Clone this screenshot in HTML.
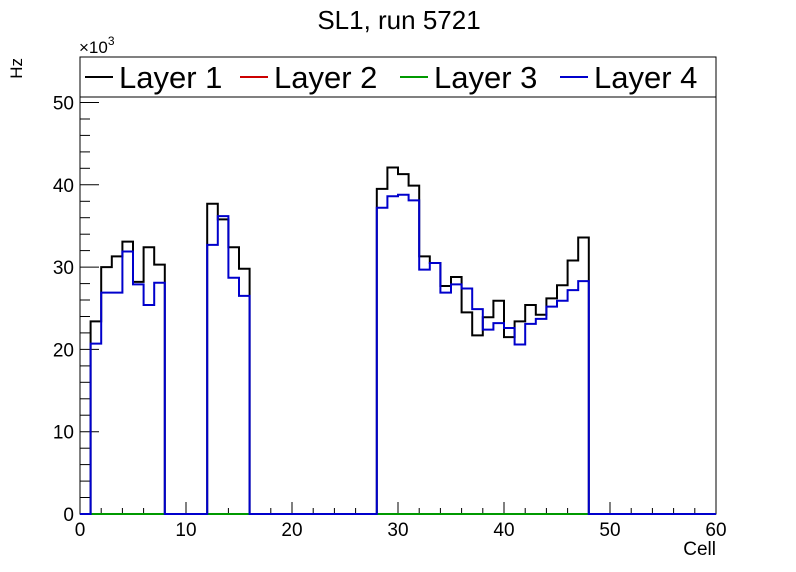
<!DOCTYPE html>
<html><head><meta charset="utf-8"><style>
body{margin:0;background:#fff;}
svg{display:block;font-family:"Liberation Sans",sans-serif;}
</style></head><body>
<svg id="s" width="796" height="572" viewBox="0 0 796 572" xmlns="http://www.w3.org/2000/svg">
<rect width="796" height="572" fill="#fff"/>
<text x="399" y="29" font-size="26" text-anchor="middle">SL1, run 5721</text>
<text x="22" y="58" font-size="17" transform="rotate(-90 22 58)" text-anchor="end">Hz</text>
<text x="79" y="53" font-size="17">×10<tspan dy="-8" font-size="12">3</tspan></text>
<text x="716" y="555" font-size="19" text-anchor="end">Cell</text>
<g id="g"></g>
<rect x="80" y="57" width="636" height="40" fill="#fff" stroke="#000" stroke-width="1"/>
<g font-size="31">
<line x1="85" y1="77" x2="113" y2="77" stroke="#000" stroke-width="2"/><text x="119" y="88">Layer 1</text>
<line x1="240" y1="77" x2="268" y2="77" stroke="#c00" stroke-width="2"/><text x="274" y="88">Layer 2</text>
<line x1="400" y1="77" x2="428" y2="77" stroke="#090" stroke-width="2"/><text x="434" y="88">Layer 3</text>
<line x1="560" y1="77" x2="588" y2="77" stroke="#00c" stroke-width="2"/><text x="594" y="88">Layer 4</text>
</g>
</svg>
<script>
var X0=80,X1=716,Y0=514,K=8.23;
function px(c){return X0+(X1-X0)*c/60;}
function py(v){return Y0-v*K;}
var A={1:23.4,2:30.0,3:31.3,4:33.1,5:28.2,6:32.4,7:30.3,12:37.7,13:35.8,14:32.4,15:29.8,28:39.5,29:42.1,30:41.3,31:39.9,32:31.3,33:30.5,34:27.7,35:28.8,36:24.5,37:21.7,38:23.9,39:25.9,40:21.5,41:23.4,42:25.4,43:24.2,44:26.2,45:27.8,46:30.8,47:33.6};
var B={1:20.7,2:26.9,3:26.9,4:31.9,5:27.9,6:25.4,7:28.1,12:32.7,13:36.2,14:28.7,15:26.5,28:37.2,29:38.6,30:38.8,31:38.1,32:29.7,33:30.5,34:26.9,35:27.9,36:27.4,37:24.9,38:22.4,39:23.2,40:22.6,41:20.6,42:23.1,43:23.7,44:25.2,45:25.9,46:27.2,47:28.3};
function path(d){var s="M"+px(0)+","+Y0;for(var i=0;i<60;i++){var v=d[i]||0;s+=" L"+px(i).toFixed(1)+","+py(v).toFixed(1)+" L"+px(i+1).toFixed(1)+","+py(v).toFixed(1);}s+=" L"+px(60)+","+Y0;return s;}
var h='';
h+='<rect x="80" y="97" width="636" height="417" fill="none" stroke="#000" stroke-width="1"/>';
for(var v=0;v<=50;v+=2){var y=py(v),L=(v%10==0)?19:10;h+='<line x1="80" x2="'+(80+L)+'" y1="'+y.toFixed(1)+'" y2="'+y.toFixed(1)+'" stroke="#000"/>';if(v%10==0)h+='<text x="74" y="'+(y+7).toFixed(1)+'" font-size="19" text-anchor="end">'+v+'</text>';}
for(var c=0;c<=60;c+=2){var x=px(c),L=(c%10==0)?12:6;h+='<line x1="'+x.toFixed(1)+'" x2="'+x.toFixed(1)+'" y1="514" y2="'+(514-L)+'" stroke="#000"/>';if(c%10==0)h+='<text x="'+x.toFixed(1)+'" y="536" font-size="19" text-anchor="middle">'+c+'</text>';}
h+='<path d="'+path(A)+'" fill="none" stroke="#000" stroke-width="2"/>';
h+='<path d="'+path({})+'" fill="none" stroke="#c00" stroke-width="2"/>';
h+='<path d="'+path({})+'" fill="none" stroke="#090" stroke-width="2"/>';
h+='<path d="'+path(B)+'" fill="none" stroke="#00c" stroke-width="2"/>';
document.getElementById('g').innerHTML=h;
</script>
</body></html>
